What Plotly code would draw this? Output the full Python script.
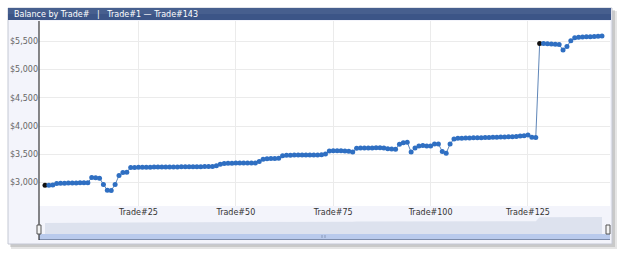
import plotly.graph_objects as go

W, H = 625, 258

trades = list(range(1, 145))
balance = [
    2955, 2955, 2960,
    2985, 2990, 2990, 2995, 2995, 2995, 3000, 3000, 3000,
    3090, 3085, 3080,
    2970,
    2865, 2860,
    2970,
    3125,
    3180, 3185,
    3270, 3270, 3272, 3272, 3274, 3274, 3275, 3276, 3276, 3277, 3278,
    3278, 3279, 3280, 3280, 3281, 3282, 3282, 3283, 3284, 3285, 3286,
    3300, 3325, 3340,
    3345, 3345, 3346, 3347, 3347, 3348, 3349, 3350,
    3375,
    3415,
    3425, 3428, 3428, 3430,
    3475,
    3485, 3486, 3487, 3487, 3488, 3488, 3489, 3490, 3490, 3492,
    3505,
    3560,
    3565, 3565, 3563, 3560, 3555,
    3540,
    3610,
    3612, 3614, 3615, 3615, 3616, 3617, 3615,
    3600, 3595, 3590,
    3680,
    3705,
    3715,
    3540,
    3615,
    3650, 3655, 3650, 3650,
    3685, 3685,
    3550,
    3520,
    3684,
    3772,
    3785, 3787, 3789, 3790, 3792, 3794, 3796, 3798, 3800, 3802, 3804,
    3806, 3808, 3810, 3813, 3816, 3825,
    3830,
    3843,
    3805, 3800,
    5460,
    5458, 5455, 5450, 5445, 5440,
    5345,
    5405,
    5509,
    5562,
    5572, 5575, 5578, 5580, 5584, 5588, 5592,
]
highlight_trades = [1, 128]

y_ticks = [3000, 3500, 4000, 4500, 5000, 5500]
y_ticktext = ["$3,000", "$3,500", "$4,000", "$4,500", "$5,000", "$5,500"]
x_ticks = [25, 50, 75, 100, 125]
x_ticktext = ["Trade#25", "Trade#50", "Trade#75", "Trade#100", "Trade#125"]
title_text = "Balance by Trade#   |   Trade#1 \u2014 Trade#143"

def px(x):
    return x / W

def py(y):
    return 1 - y / H

marker_colors = ["#111111" if t in highlight_trades else "#2f6fc2" for t in trades]

fig = go.Figure()

# navigator mini area
nav_base = -1750
fig.add_trace(go.Scatter(x=trades, y=[nav_base] * len(trades), xaxis="x2", yaxis="y2",
                         mode="lines", line=dict(width=0), hoverinfo="skip", showlegend=False))
fig.add_trace(go.Scatter(x=trades, y=balance, xaxis="x2", yaxis="y2", mode="lines",
                         line=dict(width=0), fill="tonexty", fillcolor="#dde2ee",
                         hoverinfo="skip", showlegend=False))

# main series
fig.add_trace(go.Scatter(
    x=trades, y=balance, mode="lines+markers",
    line=dict(color="#5f86b8", width=1),
    marker=dict(color=marker_colors, size=5, line=dict(width=0)),
    showlegend=False,
))

xr = [1 + (39 - 45) / 3.895, 1 + (610 - 45) / 3.895]
yr = [2588, 5857]

shapes = [
    # shadow
    dict(type="rect", xref="paper", yref="paper", x0=px(11), x1=px(617), y0=py(249), y1=py(11),
         fillcolor="rgba(0,0,0,0.10)", line=dict(width=0), layer="below"),
    dict(type="rect", xref="paper", yref="paper", x0=px(10), x1=px(615), y0=py(247), y1=py(10),
         fillcolor="rgba(0,0,0,0.12)", line=dict(width=0), layer="below"),
    # frame
    dict(type="rect", xref="paper", yref="paper", x0=px(8), x1=px(612), y0=py(244), y1=py(8),
         fillcolor="#f3f4fb", line=dict(color="#c4c8d4", width=1), layer="below"),
    # plot area white
    dict(type="rect", xref="paper", yref="paper", x0=px(39), x1=px(610), y0=py(206), y1=py(21),
         fillcolor="#ffffff", line=dict(width=0), layer="below"),
    # navigator bottom band
    dict(type="rect", xref="paper", yref="paper", x0=px(39), x1=px(610), y0=py(239), y1=py(234),
         fillcolor="#b9caec", line=dict(width=0), layer="below"),
    dict(type="line", xref="paper", yref="paper", x0=px(39), x1=px(610), y0=py(239.5), y1=py(239.5),
         line=dict(color="#7d8cab", width=1), layer="above"),
    # title bar
    dict(type="rect", xref="paper", yref="paper", x0=px(8), x1=px(611), y0=py(20), y1=py(8),
         fillcolor="#3c5587", line=dict(width=0), layer="above"),
    dict(type="rect", xref="paper", yref="paper", x0=px(8), x1=px(611), y0=py(14), y1=py(8),
         fillcolor="rgba(255,255,255,0.06)", line=dict(width=0), layer="above"),
    # y axis line
    dict(type="line", xref="paper", yref="paper", x0=px(39), x1=px(39), y0=py(240), y1=py(21),
         line=dict(color="#111111", width=1), layer="above"),
    # navigator handles
    dict(type="rect", xref="paper", yref="paper", x0=px(37), x1=px(41), y0=py(234), y1=py(225),
         fillcolor="#f4f4f4", line=dict(color="#555555", width=1), layer="above"),
    dict(type="rect", xref="paper", yref="paper", x0=px(606), x1=px(610), y0=py(234), y1=py(225),
         fillcolor="#f4f4f4", line=dict(color="#555555", width=1), layer="above"),
    dict(type="line", xref="paper", yref="paper", x0=px(322), x1=px(322), y0=py(238), y1=py(235),
         line=dict(color="#8899bb", width=1), layer="above"),
    dict(type="line", xref="paper", yref="paper", x0=px(325), x1=px(325), y0=py(238), y1=py(235),
         line=dict(color="#8899bb", width=1), layer="above"),
]

fig.update_layout(
    width=W, height=H,
    margin=dict(l=0, r=0, t=0, b=0),
    paper_bgcolor="#ffffff",
    plot_bgcolor="rgba(0,0,0,0)",
    font=dict(family="DejaVu Sans, Verdana, sans-serif", size=8, color="#666666"),
    showlegend=False,
    xaxis=dict(
        domain=[px(39), px(610)], range=xr, tickmode="array", tickvals=x_ticks, ticktext=x_ticktext,
        showgrid=True, gridcolor="#ebebeb", gridwidth=1, zeroline=False, showline=False,
        ticks="", ticklen=0, tickfont=dict(size=8, color="#333333"), anchor="y",
    ),
    yaxis=dict(
        domain=[py(206), py(21)], range=yr, tickmode="array", tickvals=y_ticks,
        ticktext=y_ticktext, showgrid=True, gridcolor="#ebebeb", gridwidth=1,
        zeroline=False, showline=False, ticks="", ticklen=0,
        tickfont=dict(size=8, color="#666666"), anchor="x",
    ),
    xaxis2=dict(domain=[px(39), px(610)], range=xr, visible=False, anchor="y2"),
    yaxis2=dict(domain=[py(234), py(214)], range=[nav_base, 6890], visible=False, anchor="x2"),
    shapes=shapes,
    annotations=[
        dict(text=title_text, xref="paper", yref="paper", x=px(12), y=py(14.5),
             xanchor="left", yanchor="middle", showarrow=False,
             font=dict(family="DejaVu Sans, Verdana, sans-serif", size=8, color="#ffffff")),
    ],
)

fig.write_html("out.html")
